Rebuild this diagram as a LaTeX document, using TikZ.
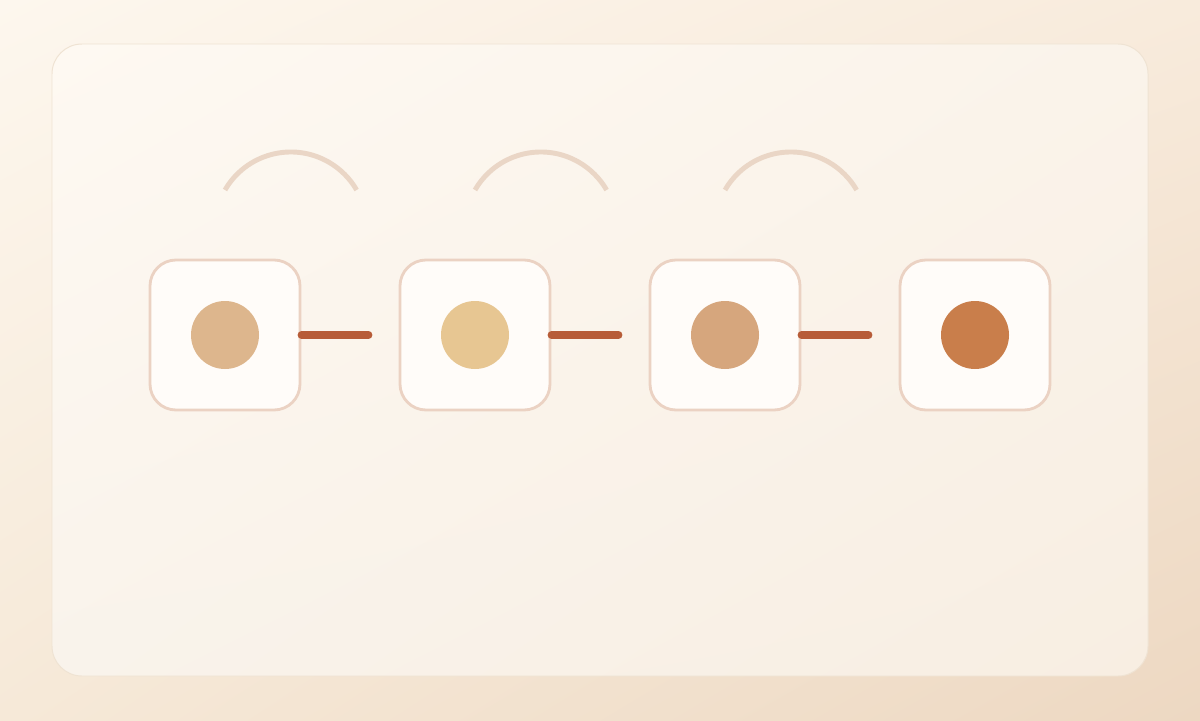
\documentclass[tikz,border=0pt]{standalone}
\usepackage{xcolor}
\usetikzlibrary{positioning}
\usetikzlibrary{shadings}
\definecolor{bgA}{HTML}{FDF7EE}
\definecolor{bgB}{HTML}{F8EBDC}
\definecolor{bgC}{HTML}{F6E9D8}
\definecolor{bgD}{HTML}{EDD8C2}
\definecolor{cardA}{HTML}{FEF9F2}
\definecolor{cardB}{HTML}{FAF3EA}
\definecolor{cardC}{HTML}{F9F3EB}
\definecolor{cardD}{HTML}{F8EEE2}
\definecolor{cardline}{HTML}{EFE3D3}
\definecolor{boxline}{HTML}{EBD2C3}
\definecolor{boxfill}{HTML}{FFFCF9}
\definecolor{arcline}{HTML}{EAD6C6}
\definecolor{linkcol}{HTML}{B75C38}
\definecolor{dotA}{HTML}{DDB68D}
\definecolor{dotB}{HTML}{E7C692}
\definecolor{dotC}{HTML}{D6A67D}
\definecolor{dotD}{HTML}{C97E4B}

\begin{document}
\begin{tikzpicture}[main/.style = {draw=boxline, line width=2pt, fill=boxfill, rounded corners=0.65cm, minimum size=3.75cm, inner sep=0pt},
  dot/.style = {circle, minimum size=1.7cm, inner sep=0pt},
  link/.style = {draw=linkcol, line width=5.4pt, line cap=round},
  hump/.style = {draw=arcline, line width=3.5pt},
  node distance=6.25cm]
\useasboundingbox (0,0) rectangle (30,18);
\shade[upper left=bgA, upper right=bgB, lower left=bgC, lower right=bgD] (0,0) rectangle (30,18);
\shade[rounded corners=0.75cm, upper left=cardA, upper right=cardB, lower left=cardC, lower right=cardD] (1.3,1.1) rectangle (28.7,16.9);
\draw[cardline, line width=0.7pt, rounded corners=0.75cm] (1.3,1.1) rectangle (28.7,16.9);
\node[main] (1) at (5.625,9.625) {}; 
\node[main] (2) [right of=1] {}; 
\node[main] (3) [right of=2] {}; 
\node[main] (4) [right of=3] {}; 
\node[dot, fill=dotA] (d1) at (1) {};
\node[dot, fill=dotB] (d2) at (2) {};
\node[dot, fill=dotC] (d3) at (3) {};
\node[dot, fill=dotD] (d4) at (4) {};
\coordinate[left=0.75cm of 2] (e1);
\coordinate[left=0.75cm of 3] (e2);
\coordinate[left=0.75cm of 4] (e3);
\path (1) edge [link] (e1);
\path (2) edge [link] (e2);
\path (3) edge [link] (e3);
% arcs over the first three boxes
\foreach \n in {1,2,3}
  \draw[hump] ([yshift=3.625cm]\n.center) arc[start angle=150, end angle=30, radius=1.9cm];
\end{tikzpicture}
\end{document}
